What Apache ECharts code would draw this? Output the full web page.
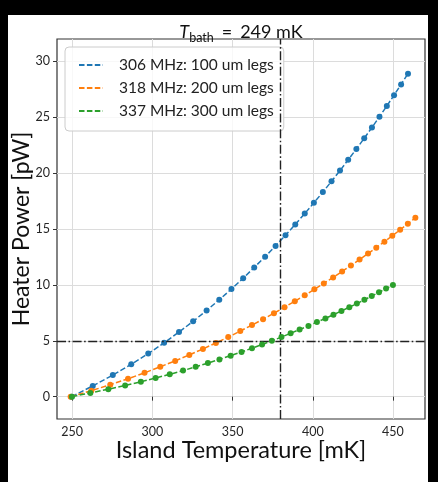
<!DOCTYPE html>
<html>
<head>
<meta charset="utf-8">
<script src="https://cdn.jsdelivr.net/npm/echarts@6/dist/echarts.min.js"></script>
<style>
  html, body { margin: 0; padding: 0; background: #000; width: 438px; height: 482px; overflow: hidden; }
  #chart { position: absolute; left: 8px; top: 15px; width: 420px; height: 467px; background: #fff; }
</style>
</head>
<body>
<div id="chart"></div>
<script>
// Heater power needed to hold each bolometer island at a given temperature
const seriesNames = ['306 MHz: 100 um legs', '318 MHz: 200 um legs', '337 MHz: 300 um legs'];
const seriesColors = ['#1f77b4', '#ff7f0e', '#2ca02c'];

// Island temperature [mK]
const tempBlue = [249.6, 262.8, 275.3, 286.8, 297.4, 307.3, 316.6, 325.4, 333.8, 341.7, 349.3, 356.6, 363.5, 370.3, 376.8, 383.0, 389.1, 395.0, 400.7, 406.3, 411.7, 417.0, 422.1, 427.2, 432.1, 436.9, 441.6, 446.2, 450.7, 455.1, 459.4];
const tempOrange = [249.0, 261.9, 273.7, 284.8, 295.1, 304.9, 314.2, 323.0, 331.5, 339.6, 347.3, 354.8, 362.1, 369.0, 375.8, 382.4, 388.8, 395.0, 401.0, 406.9, 412.7, 418.3, 423.8, 429.2, 434.5, 439.6, 444.7, 449.6, 454.5, 459.3, 464.0];
const tempGreen = [249.8, 261.3, 272.5, 283.0, 292.8, 302.0, 310.8, 319.1, 327.0, 334.6, 341.8, 348.8, 355.6, 362.1, 368.4, 374.5, 380.5, 386.2, 391.8, 397.3, 402.6, 407.9, 412.9, 417.9, 422.8, 427.5, 432.2, 436.8, 441.3, 445.7, 450.0];

// Heater power [pW]
const powerBlue = [0.00, 0.96, 1.93, 2.89, 3.85, 4.82, 5.78, 6.74, 7.71, 8.67, 9.63, 10.60, 11.56, 12.52, 13.49, 14.45, 15.41, 16.38, 17.34, 18.30, 19.27, 20.23, 21.19, 22.16, 23.12, 24.08, 25.05, 26.01, 26.97, 27.94, 28.90];
const powerOrange = [0.00, 0.53, 1.07, 1.60, 2.13, 2.67, 3.20, 3.73, 4.27, 4.80, 5.33, 5.87, 6.40, 6.93, 7.47, 8.00, 8.53, 9.07, 9.60, 10.13, 10.67, 11.20, 11.73, 12.27, 12.80, 13.33, 13.87, 14.40, 14.93, 15.47, 16.00];
const powerGreen = [0.00, 0.33, 0.67, 1.00, 1.33, 1.67, 2.00, 2.33, 2.67, 3.00, 3.33, 3.67, 4.00, 4.33, 4.67, 5.00, 5.33, 5.67, 6.00, 6.33, 6.67, 7.00, 7.33, 7.67, 8.00, 8.33, 8.67, 9.00, 9.33, 9.67, 10.00];

// Axis ranges, ticks and reference lines
const xRange = [240.5, 470];
const yRange = [-2, 32];
const xTicks = [250, 300, 350, 400, 450];
const yTicks = [0, 5, 10, 15, 20, 25, 30];
const powerTarget = 5;
const tempTarget = 380;

const FONT = 'Lato';
const pair = (xs, ys) => xs.map((x, i) => [x, ys[i]]);
const temps = [tempBlue, tempOrange, tempGreen];
const powers = [powerBlue, powerOrange, powerGreen];

const series = seriesNames.map((name, k) => ({
  name: name,
  type: 'line',
  data: pair(temps[k], powers[k]),
  color: seriesColors[k],
  symbol: 'circle',
  symbolSize: 6,
  showSymbol: true,
  lineStyle: { width: 1.5, type: [5.5, 2.4], color: seriesColors[k] },
  itemStyle: { color: seriesColors[k] },
  emphasis: { disabled: true },
  animation: false,
  z: 3 + k
}));

// Dash-dot guides at the target power and temperature
series.push({
  type: 'line',
  data: [],
  silent: true,
  animation: false,
  markLine: {
    silent: true,
    symbol: 'none',
    animation: false,
    label: { show: false },
    lineStyle: { color: '#222', width: 1.4, type: [9, 2.5, 1.6, 2.5] },
    emphasis: { disabled: true },
    data: [
      [{ coord: [xRange[0], powerTarget] }, { coord: [xRange[1], powerTarget] }],
      [{ coord: [tempTarget, yRange[0]] }, { coord: [tempTarget, yRange[1]] }]
    ]
  },
  z: 2
});

const chart = echarts.init(document.getElementById('chart'), null, { renderer: 'canvas' });
chart.setOption({
  backgroundColor: '#fff',
  animation: false,
  grid: {
    left: 49, top: 24, width: 368, height: 380,
    outerBoundsMode: 'none', containLabel: false,
    show: true, borderColor: '#333', borderWidth: 1.2, backgroundColor: 'transparent'
  },
  legend: {
    orient: 'vertical',
    left: 57, top: 32,
    padding: [10, 10, 12, 13],
    itemWidth: 24, itemHeight: 14, itemGap: 7,
    backgroundColor: 'rgba(255,255,255,0.8)',
    borderColor: '#cccccc', borderWidth: 1, borderRadius: 4,
    itemStyle: { opacity: 0 },
    textStyle: { fontFamily: FONT, fontSize: 15.5, color: '#222', padding: [0, 0, 0, 11] },
    data: seriesNames
  },
  xAxis: [{
    type: 'value', min: xRange[0], max: xRange[1], position: 'bottom',
    axisLine: { show: false },
    axisTick: { show: true, inside: false, length: 4, customValues: xTicks, lineStyle: { color: '#333' } },
    axisLabel: { customValues: xTicks, margin: 6, fontFamily: FONT, fontSize: 12.5, color: '#262626' },
    splitLine: { show: true, lineStyle: { color: '#dcdcdc', width: 1 } },
    name: 'Island Temperature [mK]', nameLocation: 'middle', nameGap: 19, nameMoveOverlap: false,
    nameTextStyle: { fontFamily: FONT, fontSize: 23.5, color: '#111', verticalAlign: 'top' }
  }, {
    type: 'value', min: xRange[0], max: xRange[1], position: 'top',
    axisLine: { show: false }, axisTick: { show: false }, axisLabel: { show: false }, splitLine: { show: false },
    name: '{t|T}{s|bath}{e|=}{n|249 mK}', nameLocation: 'middle', nameGap: -2, nameMoveOverlap: false,
    nameTextStyle: {
      rich: {
        t: { fontFamily: FONT, fontStyle: 'italic', fontSize: 18, color: '#111', lineHeight: 18, verticalAlign: 'top' },
        s: { fontFamily: FONT, fontSize: 12.5, color: '#111', lineHeight: 12, padding: [8, 1, 0, 0], verticalAlign: 'top' },
        e: { fontFamily: FONT, fontSize: 18, color: '#111', lineHeight: 18, padding: [0, 8, 0, 7], verticalAlign: 'top' },
        n: { fontFamily: FONT, fontSize: 18, color: '#111', lineHeight: 18, verticalAlign: 'top' }
      }
    }
  }],
  yAxis: [{
    type: 'value', min: yRange[0], max: yRange[1],
    axisLine: { show: false },
    axisTick: { show: true, inside: false, length: 4, customValues: yTicks, lineStyle: { color: '#333' } },
    axisLabel: { customValues: yTicks, margin: 7, fontFamily: FONT, fontSize: 12.5, color: '#262626' },
    splitLine: { show: true, lineStyle: { color: '#dcdcdc', width: 1 } },
    name: 'Heater Power [pW]', nameLocation: 'middle', nameGap: 24, nameRotate: 90, nameMoveOverlap: false,
    nameTextStyle: { fontFamily: FONT, fontSize: 23, color: '#111', verticalAlign: 'bottom' }
  }],
  series: series
});
</script>
</body>
</html>
